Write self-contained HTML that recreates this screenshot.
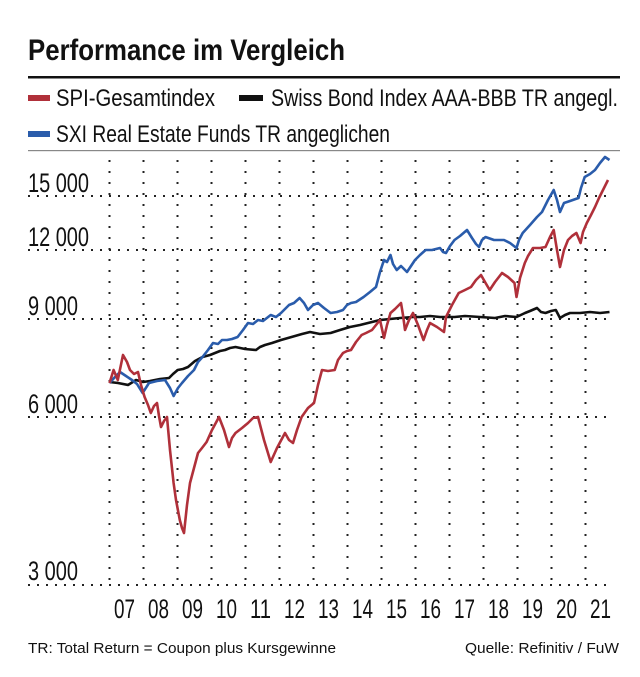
<!DOCTYPE html>
<html><head><meta charset="utf-8"><style>
html,body{margin:0;padding:0;background:#fff;}
svg{display:block;font-family:"Liberation Sans Narrow","Liberation Sans",sans-serif;}
</style></head><body>
<svg width="640" height="677" viewBox="0 0 640 677" xmlns="http://www.w3.org/2000/svg">
<text x="28" y="60" font-size="30" font-weight="bold" fill="#111" textLength="317" lengthAdjust="spacingAndGlyphs">Performance im Vergleich</text>
<rect x="28" y="76" width="592" height="2.5" fill="#111"/>
<rect x="28" y="95" width="22" height="6" fill="#b0303a"/>
<text x="56" y="106" font-size="24" fill="#111" textLength="159" lengthAdjust="spacingAndGlyphs">SPI-Gesamtindex</text>
<rect x="239" y="95" width="24" height="6" fill="#111"/>
<text x="271" y="106" font-size="24" fill="#111" textLength="347" lengthAdjust="spacingAndGlyphs">Swiss Bond Index AAA-BBB TR angegl.</text>
<rect x="28" y="131" width="22" height="6" fill="#2a5cab"/>
<text x="56" y="142" font-size="24" fill="#111" textLength="334" lengthAdjust="spacingAndGlyphs">SXI Real Estate Funds TR angeglichen</text>
<rect x="28" y="150" width="592" height="1.2" fill="#888"/>
<g stroke="#222" stroke-width="2" stroke-dasharray="2 7" fill="none">
<line x1="28" y1="196" x2="612" y2="196"/>
<line x1="28" y1="250" x2="612" y2="250"/>
<line x1="28" y1="319" x2="612" y2="319"/>
<line x1="28" y1="417" x2="612" y2="417"/>
<line x1="28" y1="585" x2="612" y2="585"/>
</g>
<g stroke="#222" stroke-width="2" stroke-dasharray="2 9" fill="none">
<line x1="109.5" y1="160" x2="109.5" y2="585"/><line x1="143.5" y1="160" x2="143.5" y2="585"/>
<line x1="177.5" y1="160" x2="177.5" y2="585"/><line x1="211.5" y1="160" x2="211.5" y2="585"/>
<line x1="245.5" y1="160" x2="245.5" y2="585"/><line x1="279.5" y1="160" x2="279.5" y2="585"/>
<line x1="313.5" y1="160" x2="313.5" y2="585"/><line x1="347.5" y1="160" x2="347.5" y2="585"/>
<line x1="381.5" y1="160" x2="381.5" y2="585"/><line x1="415.5" y1="160" x2="415.5" y2="585"/>
<line x1="449.5" y1="160" x2="449.5" y2="585"/><line x1="483.5" y1="160" x2="483.5" y2="585"/>
<line x1="517.5" y1="160" x2="517.5" y2="585"/><line x1="551.5" y1="160" x2="551.5" y2="585"/>
<line x1="585.5" y1="160" x2="585.5" y2="585"/>
</g>
<g font-size="27" fill="#111">
<text x="28" y="192" textLength="61" lengthAdjust="spacingAndGlyphs">15 000</text>
<text x="28" y="246" textLength="61" lengthAdjust="spacingAndGlyphs">12 000</text>
<text x="28" y="315" textLength="50" lengthAdjust="spacingAndGlyphs">9 000</text>
<text x="28" y="413" textLength="50" lengthAdjust="spacingAndGlyphs">6 000</text>
<text x="28" y="580" textLength="50" lengthAdjust="spacingAndGlyphs">3 000</text>
</g>
<g font-size="27" fill="#111">
<text x="114" y="618" textLength="21" lengthAdjust="spacingAndGlyphs">07</text>
<text x="148" y="618" textLength="21" lengthAdjust="spacingAndGlyphs">08</text>
<text x="182" y="618" textLength="21" lengthAdjust="spacingAndGlyphs">09</text>
<text x="216" y="618" textLength="21" lengthAdjust="spacingAndGlyphs">10</text>
<text x="250" y="618" textLength="21" lengthAdjust="spacingAndGlyphs">11</text>
<text x="284" y="618" textLength="21" lengthAdjust="spacingAndGlyphs">12</text>
<text x="318" y="618" textLength="21" lengthAdjust="spacingAndGlyphs">13</text>
<text x="352" y="618" textLength="21" lengthAdjust="spacingAndGlyphs">14</text>
<text x="386" y="618" textLength="21" lengthAdjust="spacingAndGlyphs">15</text>
<text x="420" y="618" textLength="21" lengthAdjust="spacingAndGlyphs">16</text>
<text x="454" y="618" textLength="21" lengthAdjust="spacingAndGlyphs">17</text>
<text x="488" y="618" textLength="21" lengthAdjust="spacingAndGlyphs">18</text>
<text x="522" y="618" textLength="21" lengthAdjust="spacingAndGlyphs">19</text>
<text x="556" y="618" textLength="21" lengthAdjust="spacingAndGlyphs">20</text>
<text x="590" y="618" textLength="21" lengthAdjust="spacingAndGlyphs">21</text>
</g>
<g fill="none" stroke-width="2.6" stroke-linejoin="round">
<polyline stroke="#111" points="109.5,382 118,383 128,385 136,380 143,382 150,381 160,379 169,378 173,374 177.7,370 183,369 188,367 195,361 202.5,357 210,355 215,353 220,351 225,350 230,348 235.5,347 245,349 256,350 260,347 265,345 272,343 281,340 288,338 295,336 302,334 310,332 320,334 330.6,333 340,330 350,327 360,325 372,322 380,320 390,319 400,318 413,317 420,317 430,316 440,317 454.5,317 465,316 480,317 495,318 505,316 516.5,317 525,313 530,311 537,308 541,312 545.5,313 551,311 555.8,310 560,318 565,315 570,313 580,313 590,312 600,313 609.5,312"/>
<polyline stroke="#2a5cab" points="109.5,383 115,377 120,372 126,376 132,380 137,384 142.6,393 149,383 157,381 165,380 170,388 173.6,396 178,388 182,383 188,376 194,370 198,362 202.5,357 208,350 213,343 218,344 222,340 227,340 232,339 237.6,337 243,330 248,323 253,324 258,320 263,321 270.7,315 276,317 281,313 285,309 289,305 294,303 299.6,298 304,303 308,310 313,305 318,303 324,308 330.6,313 337,312 343,310 347,305 351,303 356,302 363.6,297 370,292 376,287 380,272 384,260 387,262 390.5,255 393,264 396.7,270 401,266 407,272 411,266 415,260 420,255 425.6,250 432,250 440,248 443,252 446,253 450,246 454.5,240 460,236 467,230 472,238 476,244 479,247 482,240 485.5,237 494,240 504,240 510,243 516.5,248 519,240 522.7,233 530,225 537,217 542,212 548,200 553.7,190 557,200 560,212 564,203 570,201 578.5,198 581,188 584.7,177 590,174 595,170 600,163 605,157 609.5,160"/>
<polyline stroke="#b0303a" points="109.5,383 113.6,370 117.8,380 123,355 127,362 130,370 134,374 138,372 141,385 144.6,397 148,405 150.8,413 154,406 157,403 159,416 161,427 164,421 167,417 170,450 173.6,483 176,500 179.8,520 182,528 184,533 187,505 190,483 194,468 198,453 202,448 206.6,442 212,430 219,417 224,430 229,447 232,438 235.5,433 242,428 248,423 253,418 258,417 264,440 270.7,462 277,448 285,433 289,440 293,443 297,430 301.6,417 308,408 314,403 318,385 322,370 328,371 334.7,370 338,360 343,353 347,351 351,350 356,342 361.6,335 366,333 372,330 376,325 380,320 384,338 387,325 390.5,313 395,309 401,303 403,315 405,330 409,320 413,313 418,325 423.5,340 427,330 430,323 437,327 444,332 446,317 452,305 458.7,293 465,290 471,287 476,280 481,275 485,282 489.7,290 495,282 502,273 508,277 514.5,283 516.5,297 520,278 524.8,263 528,256 533,248 540,248 545.5,247 550,237 553.7,230 557,250 560,267 564,250 568,240 572,236 576.4,233 580.6,243 583,232 586.8,223 591,215 595,207 599,198 603,190 608,180"/>
</g>
<text x="28" y="653" font-size="15" fill="#111" textLength="308" lengthAdjust="spacingAndGlyphs">TR: Total Return = Coupon plus Kursgewinne</text>
<text x="465" y="653" font-size="15" fill="#111" textLength="154" lengthAdjust="spacingAndGlyphs">Quelle: Refinitiv / FuW</text>
</svg>
</body></html>
